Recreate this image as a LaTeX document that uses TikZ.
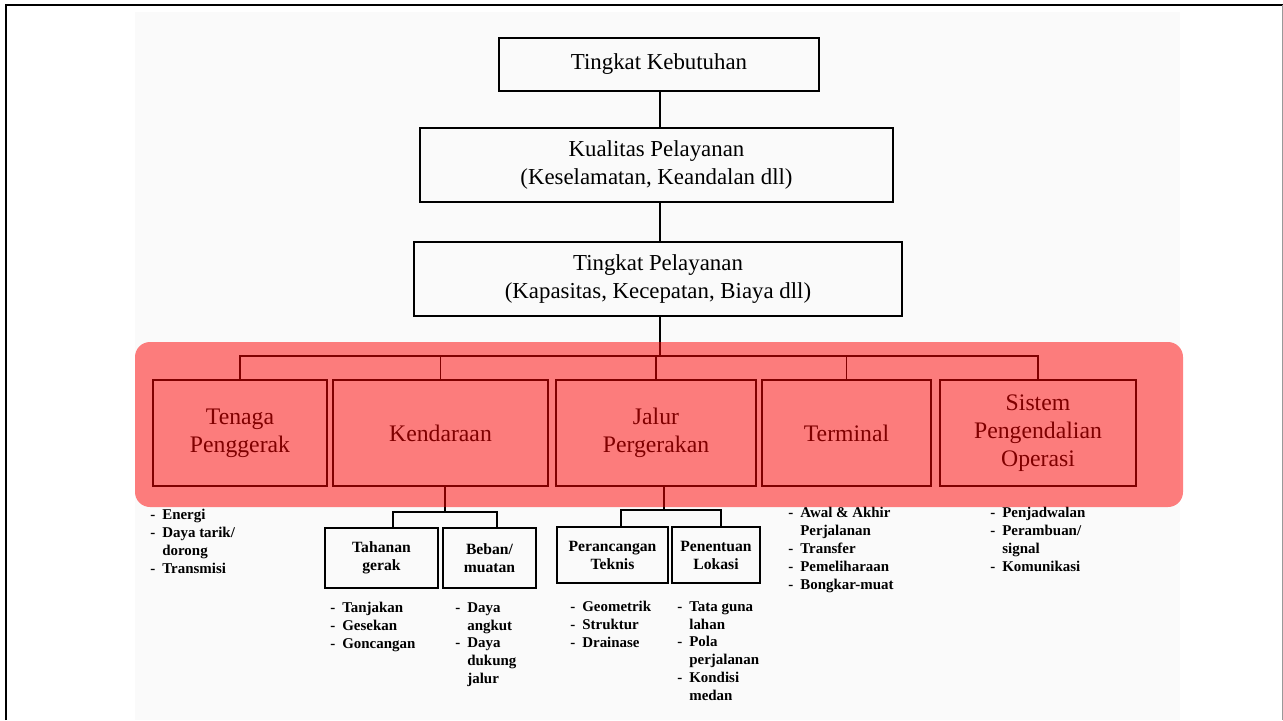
\documentclass[tikz,border=0pt]{standalone}
\usepackage{fontspec}
\setmainfont{Liberation Serif}
\usetikzlibrary{calc}
\def\dashitem#1{\makebox[0.24cm][l]{-}#1}
\def\contitem#1{\hspace*{0.24cm}#1}
\tikzset{
	levelbox/.style={draw, line width=1pt, align=center, inner sep=0pt, font=\fontsize{13}{15.5}\selectfont},
	groupbox/.style={draw, line width=1pt, align=center, inner sep=0pt, minimum height=2.12cm, font=\fontsize{13.5}{16}\selectfont},
	subbox/.style={draw, line width=1.3pt, align=center, inner sep=0pt, font=\bfseries\fontsize{8.9}{10.2}\selectfont},
	itemlist/.style={anchor=north west, align=left, inner sep=0pt, font=\bfseries\fontsize{8.5}{10.2}\selectfont},
	link/.style={line width=1pt},
}

\begin{document}
\begin{tikzpicture}[x=0.02cm, y=-0.02cm]
			%%%%% START %%%%%
			\useasboundingbox (0,0) rectangle (1283,720);
			
			\fill[black!2] (135,12) rectangle (1180,720);
			\draw[line width=0.04cm] (6,720) -- (6,5) -- (1283,5);
			\draw[black!40, line width=0.02cm] (1282,5) -- (1282,720);
			
			\node[levelbox, minimum width=6.4cm, minimum height=1.06cm] (need) at (659,64.5) {Tingkat Kebutuhan};
			\node[levelbox, minimum width=9.46cm, minimum height=1.48cm] (quality) at (656.5,165) {Kualitas Pelayanan\\(Keselamatan, Keandalan dll)};
			\node[levelbox, minimum width=9.76cm, minimum height=1.48cm] (service) at (658,279) {Tingkat Pelayanan\\(Kapasitas, Kecepatan, Biaya dll)};
			
			\coordinate (spine) at (660,0);
			\draw[link] (need.south -| spine) -- (quality.north -| spine);
			\draw[link] (quality.south -| spine) -- (service.north -| spine);
			
			\node[groupbox, minimum width=3.48cm] (power) at (240,433) {Tenaga\\Penggerak};
			\node[groupbox, minimum width=4.3cm] (vehicle) at (440.5,433) {Kendaraan};
			\node[groupbox, minimum width=4cm] (way) at (656,433) {Jalur\\Pergerakan};
			\node[groupbox, minimum width=3.38cm] (terminal) at (846.5,433) {Terminal};
			\node[groupbox, minimum width=3.92cm] (control) at (1038,433) {Sistem\\Pengendalian\\Operasi};
			
			\coordinate (bus) at (660,356);
			\foreach \n in {power,vehicle,way,terminal,control}
				\draw[link] (service.south -| spine) -- (bus) -| (\n.north);
			
			\node[subbox, minimum width=2.26cm, minimum height=1.2cm] (resist) at (381.5,558) {Tahanan\\gerak};
			\node[subbox, minimum width=1.86cm, minimum height=1.2cm] (load) at (489.5,558) {Beban/\\muatan};
			\node[subbox, minimum width=2.22cm, minimum height=1.12cm] (design) at (612.5,555) {Perancangan\\Teknis};
			\node[subbox, minimum width=1.76cm, minimum height=1.12cm] (location) at (716,555) {Penentuan\\Lokasi};
			
			\coordinate (vbr) at (445,512);
			\draw[link] (vehicle.south -| vbr) -- (vbr);
			\draw[link] ([xshift=0.23cm]resist.north) |- (vbr) -| ([xshift=0.15cm]load.north);
			\coordinate (wbr) at (664,510);
			\draw[link] (way.south -| wbr) -- (wbr);
			\draw[link] ([xshift=0.17cm]design.north) |- (wbr) -| ([xshift=0.1cm]location.north);
			
			\node[itemlist] (powerlist) at (150,509) {\dashitem{Energi}\\\dashitem{Daya tarik/}\\\contitem{dorong}\\\dashitem{Transmisi}};
			\node[itemlist] (resistlist) at (330,602) {\dashitem{Tanjakan}\\\dashitem{Gesekan}\\\dashitem{Goncangan}};
			\node[itemlist] (loadlist) at (455,602) {\dashitem{Daya}\\\contitem{angkut}\\\dashitem{Daya}\\\contitem{dukung}\\\contitem{jalur}};
			\node[itemlist] (designlist) at (570,601) {\dashitem{Geometrik}\\\dashitem{Struktur}\\\dashitem{Drainase}};
			\node[itemlist] (locationlist) at (677,601) {\dashitem{Tata guna}\\\contitem{lahan}\\\dashitem{Pola}\\\contitem{perjalanan}\\\dashitem{Kondisi}\\\contitem{medan}};
			\node[itemlist] (terminallist) at (788,507) {\dashitem{Awal \& Akhir}\\\contitem{Perjalanan}\\\dashitem{Transfer}\\\dashitem{Pemeliharaan}\\\dashitem{Bongkar-muat}};
			\node[itemlist] (controllist) at (990,507) {\dashitem{Penjadwalan}\\\dashitem{Perambuan/}\\\contitem{signal}\\\dashitem{Komunikasi}};
			
			\fill[red, fill opacity=0.5, rounded corners=0.3cm] (135,342) rectangle (1183,507);
			
			%%%%% END %%%%%
\end{tikzpicture}
\end{document}
